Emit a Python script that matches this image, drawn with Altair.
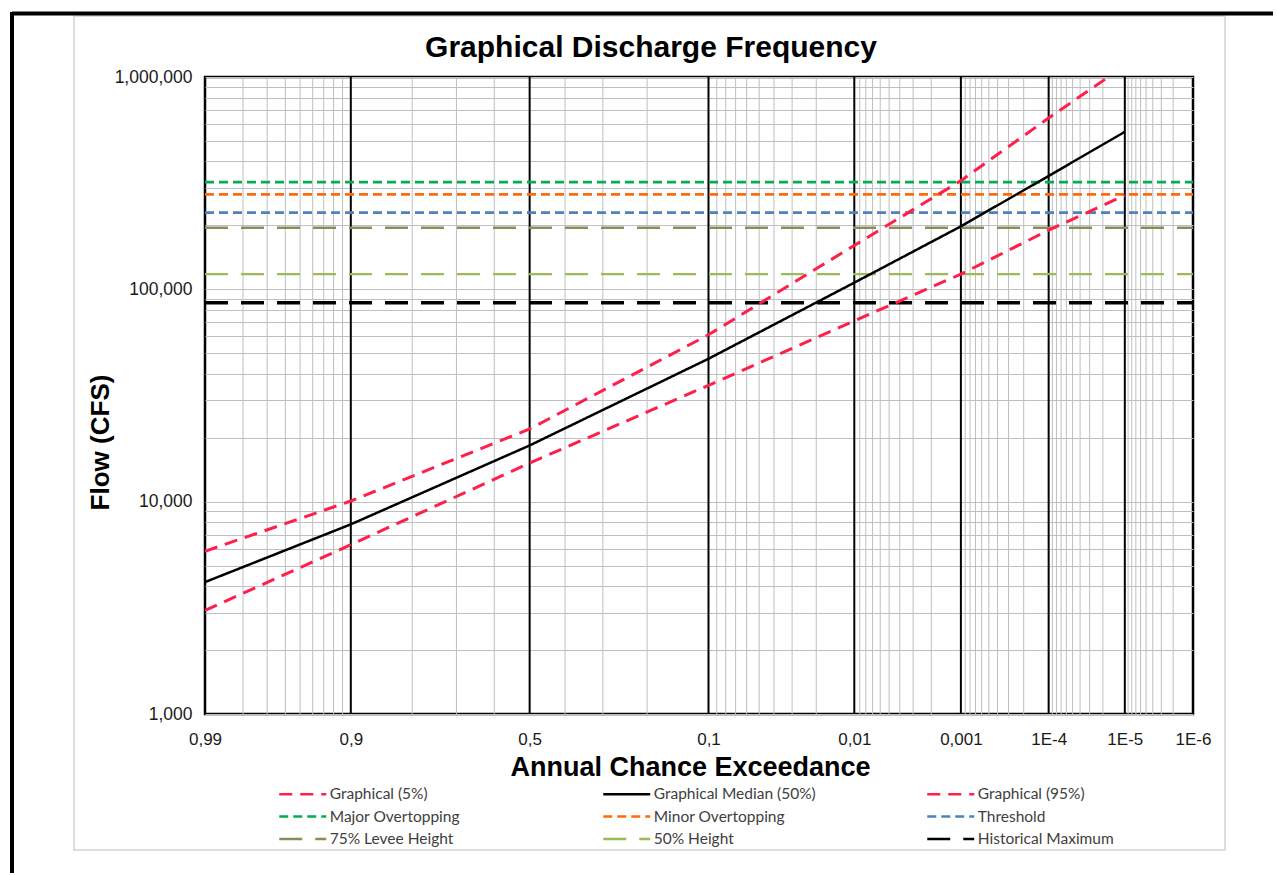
import altair as alt
import pandas as pd
from statistics import NormalDist

_nd = NormalDist()


def to_z(p):
    # annual chance of exceedance -> standard normal variate (probability scale)
    return -_nd.inv_cdf(p)


# ---------------- data ----------------
aep = [0.99, 0.9, 0.5, 0.1, 0.01, 0.001, 0.0001, 0.00001]
flow_05 = [5840, 10070, 22000, 61100, 161000, 325000, 641000, 1130000]
flow_50 = [4180, 7820, 18400, 47100, 107500, 198000, 342000, 552000]
flow_95 = [3075, 6270, 15200, 35300, 71000, 117900, 190000, 277000]

curve_names = ["Graphical (5%)", "Graphical Median (50%)", "Graphical (95%)"]

level_names = ["Major Overtopping", "Minor Overtopping", "Threshold",
               "75% Levee Height", "50% Height", "Historical Maximum"]
level_flows = [320000, 280000, 230000, 195000, 118000, 86500]

x_tick_probs = [0.99, 0.9, 0.5, 0.1, 0.01, 0.001, 1e-4, 1e-5, 1e-6]
x_tick_labels = ["0,99", "0,9", "0,5", "0,1", "0,01", "0,001", "1E-4", "1E-5", "1E-6"]
major_grid_probs = [0.9, 0.5, 0.1, 0.01, 0.001, 1e-4, 1e-5]
minor_grid_probs = ([0.98, 0.97, 0.96, 0.95, 0.94, 0.93, 0.92, 0.91,
                     0.8, 0.7, 0.6, 0.4, 0.3, 0.2]
                    + [k * 10.0 ** -e for e in (2, 3, 4, 5, 6) for k in range(9, 1, -1)])
y_tick_values = [1000, 10000, 100000, 1000000]
y_grid_values = [k * 10 ** e for e in (3, 4, 5) for k in range(1, 10)] + [1000000]

# ---------------- styles ----------------
series_order = curve_names + level_names
series_colors = ["#FF1F4B", "#000000", "#FF1F4B",
                 "#00B050", "#FF6A10", "#4F81BD", "#8C8C5A", "#9BBB59", "#000000"]
series_dashes = [[13, 8], [1, 0], [13, 8],
                 [9, 5], [9, 5], [9, 5], [23, 13], [23, 13], [23, 13]]
series_widths = [3, 2.5, 3, 2.8, 2.8, 2.8, 2.3, 2.3, 3.5]
width_of = dict(zip(series_order, series_widths))

# ---------------- tables ----------------
curve_rows = []
for name, vals in zip(curve_names, [flow_05, flow_50, flow_95]):
    for p, v in zip(aep, vals):
        curve_rows.append({"series": name, "p": p, "z": to_z(p), "flow": v,
                           "sw": width_of[name]})
curves_df = pd.DataFrame(curve_rows)

level_rows = []
for name, v in zip(level_names, level_flows):
    for p in (x_tick_probs[0], x_tick_probs[-1]):
        level_rows.append({"series": name, "p": p, "z": to_z(p), "flow": v,
                           "sw": width_of[name]})
levels_df = pd.DataFrame(level_rows)

minor_df = pd.DataFrame({"p": minor_grid_probs})
minor_df["z"] = [to_z(p) for p in minor_grid_probs]
major_df = pd.DataFrame({"p": major_grid_probs})
major_df["z"] = [to_z(p) for p in major_grid_probs]
one = pd.DataFrame({"a": [0]})

# ---------------- scales / axes ----------------
tick_z = [to_z(p) for p in x_tick_probs]
expr = "'" + x_tick_labels[-1] + "'"
for i in range(len(tick_z) - 2, -1, -1):
    mid = (tick_z[i] + tick_z[i + 1]) / 2
    expr = f"datum.value < {mid:.5f} ? '{x_tick_labels[i]}' : ({expr})"

x_scale = alt.Scale(domain=[tick_z[0], tick_z[-1]], nice=False, zero=False)
y_scale = alt.Scale(type="log", domain=[1000, 1000000], nice=False)

x_axis = alt.Axis(values=tick_z, labelExpr=expr, grid=False, ticks=False, domain=False,
                  labelFlush=False, labelOverlap=False, labelFont="Liberation Sans",
                  labelFontSize=17, labelColor="#1a1a1a", labelPadding=17,
                  title="Annual Chance Exceedance", titleFont="Liberation Sans",
                  titleFontSize=27, titleFontWeight="bold", titleColor="#000000",
                  titleX=485, titleY=61, titleBaseline="alphabetic")

y_lab = ",".join(str(v) for v in y_tick_values)
y_axis = alt.Axis(values=y_grid_values,
                  labelExpr=f"indexof([{y_lab}], datum.value) >= 0 ? format(datum.value, ',') : ''",
                  grid=True, gridColor="#BFBFBF", gridWidth=1, ticks=False, domain=False,
                  labelFlush=False, labelOverlap=False, labelFont="Liberation Sans",
                  labelFontSize=17.5, labelColor="#1a1a1a", labelPadding=13,
                  title="Flow (CFS)", titleFont="Liberation Sans", titleFontSize=26,
                  titleFontWeight="bold", titleColor="#000000",
                  titleX=-97, titleY=365, titleBaseline="alphabetic", titleAngle=270)

# wide horizontal stroke symbol: length = 2*sqrt(size)
legend = alt.Legend(title=None, orient="none", legendX=73, legendY=704, columns=3,
                    direction="horizontal",
                    symbolType="M-2,0H2", symbolSize=552, symbolStrokeWidth=2.5,
                    symbolOffset=11.75, symbolFillColor="transparent",
                    labelFont="Lato", labelFontSize=15.5, labelColor="#404040",
                    labelLimit=400, labelOffset=14, gridAlign="all",
                    columnPadding=106, rowPadding=0.5)

color_enc = alt.Color("series:N", scale=alt.Scale(domain=series_order, range=series_colors),
                      legend=legend)
dash_enc = alt.StrokeDash("series:N", scale=alt.Scale(domain=series_order, range=series_dashes),
                          legend=legend)

X = alt.X("z:Q", scale=x_scale, axis=x_axis)
Y = alt.Y("flow:Q", scale=y_scale, axis=y_axis)

# ---------------- layers ----------------
frame_rect = alt.Chart(one).mark_rect(fill="transparent", stroke="#D4D4D4", strokeWidth=1.5).encode(
    x=alt.value(-131), x2=alt.value(1020), y=alt.value(-61), y2=alt.value(773))
top_rule = alt.Chart(one).mark_rule(color="#000000", strokeWidth=4).encode(
    x=alt.value(-193), x2=alt.value(1068), y=alt.value(-63.5))
left_rule = alt.Chart(one).mark_rule(color="#000000", strokeWidth=4).encode(
    x=alt.value(-193), y=alt.value(-65), y2=alt.value(796))
title_txt = alt.Chart(one).mark_text(text="Graphical Discharge Frequency", font="Liberation Sans",
                                     fontSize=30, fontWeight="bold", color="#000000",
                                     align="center", baseline="alphabetic").encode(
    x=alt.value(446), y=alt.value(-20))

minor = alt.Chart(minor_df).mark_rule(color="#BFBFBF", strokeWidth=1).encode(x=X)
major = alt.Chart(major_df).mark_rule(color="#000000", strokeWidth=2).encode(x=X)

levels = alt.Chart(levels_df).mark_line(clip=True).encode(
    x=X, y=Y, color=color_enc, strokeDash=dash_enc,
    strokeWidth=alt.StrokeWidth("sw:Q", scale=None), detail="series:N")
curves = alt.Chart(curves_df).mark_line(clip=True).encode(
    x=X, y=Y, color=color_enc, strokeDash=dash_enc,
    strokeWidth=alt.StrokeWidth("sw:Q", scale=None), detail="series:N",
    order=alt.Order("z:Q"))

chart = alt.layer(frame_rect, top_rule, left_rule, title_txt, minor, major, levels, curves).properties(
    width=988, height=637,
    padding={"left": 10, "top": 10, "right": 0, "bottom": 0},
).configure_view(stroke="#000000", strokeWidth=2.5)

chart.save("out.html", embed_options={"renderer": "svg", "actions": False})
